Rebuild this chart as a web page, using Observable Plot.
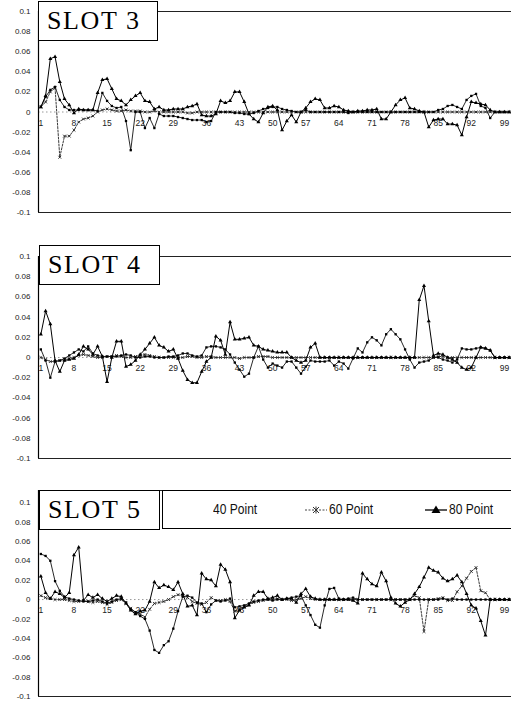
<!DOCTYPE html>
<html><head><meta charset="utf-8">
<script src="https://cdn.jsdelivr.net/npm/d3@7"></script>
<script src="https://cdn.jsdelivr.net/npm/@observablehq/plot@0.6"></script>
<style>
body{margin:0;background:#fff;}
#root{position:relative;width:511px;height:702px;overflow:hidden;font-family:"Liberation Sans",Arial,sans-serif;}
.panel{position:absolute;left:0;}
.title{position:absolute;border:1px solid #000;background:#fff;font-family:"Liberation Serif","Times New Roman",serif;font-size:26px;letter-spacing:1.6px;box-sizing:border-box;color:#000;padding-left:8px;display:flex;align-items:center;}
.legend{position:absolute;left:162px;top:490px;width:360px;height:39px;border:1px solid #000;background:#fff;box-sizing:border-box;font-family:"Liberation Sans",Arial,sans-serif;font-size:14px;color:#111;}
.legend span{position:absolute;top:10px;white-space:nowrap;display:inline-block;transform:scaleX(0.86);transform-origin:0 50%;}
.legend svg{position:absolute;top:10px;}
</style></head>
<body><div id="root"></div>
<script>
// categories and tick labels
const categories = Array.from({length: 100}, (_, k) => k + 1);
const xTickLabels = [1, 8, 15, 22, 29, 36, 43, 50, 57, 64, 71, 78, 85, 92, 99];
const yTicks = [-0.1, -0.08, -0.06, -0.04, -0.02, 0, 0.02, 0.04, 0.06, 0.08, 0.1];
const seriesNames = ["40 Point", "60 Point", "80 Point"];
const slotTitles = ["SLOT 3", "SLOT 4", "SLOT 5"];

// SLOT 3
const slot3_40 = [
0.005,0.015,0.022,0.025,0.012,0.005,0.002,0.002,0.002,0.002,
0.002,0.002,0.001,0.019,0.011,0.006,0.004,0.005,-0.009,-0.038,
0.000,0.000,-0.016,-0.006,-0.016,-0.002,-0.004,-0.004,-0.004,-0.005,
-0.006,-0.007,-0.008,-0.008,-0.008,-0.010,-0.009,0.000,0.000,0.000,
0.000,-0.001,-0.001,-0.002,-0.002,-0.001,0.001,0.003,0.004,0.005,
0.005,0.003,0.002,0.001,0.000,0.000,0.002,0.000,0.000,0.000,
0.000,0.000,0.000,0.000,0.000,-0.001,0.000,0.000,0.000,0.000,
0.000,0.000,0.000,0.000,0.000,0.000,0.000,0.000,0.000,0.000,
0.000,0.000,0.000,0.000,0.002,0.003,0.006,0.007,0.005,0.003,
0.012,0.016,0.018,0.006,0.004,-0.006,0.000,0.000,0.000,0.000];
const slot3_60 = [
0.005,0.010,0.020,0.024,-0.045,-0.024,-0.024,-0.018,-0.010,-0.007,
-0.006,-0.004,0.000,0.002,0.003,0.002,0.001,0.001,0.002,0.001,
0.001,0.001,0.000,0.000,0.001,0.000,0.000,0.000,0.000,0.000,
0.000,-0.001,-0.001,0.000,0.000,0.000,0.000,0.000,0.000,0.000,
0.000,0.000,0.000,0.000,0.000,0.000,0.000,0.000,0.000,0.000,
0.000,0.000,0.000,0.000,0.000,0.000,0.000,0.000,0.000,0.000,
0.000,0.000,0.000,0.000,0.000,0.000,0.000,0.000,0.000,0.000,
0.000,0.000,0.000,0.000,0.000,0.000,0.000,0.000,0.000,0.000,
0.000,0.000,0.000,0.000,0.000,0.000,0.000,0.000,0.000,0.000,
0.000,0.000,0.000,0.000,0.000,0.000,0.000,0.000,0.000,0.000];
const slot3_80 = [
0.005,0.016,0.053,0.055,0.030,0.013,0.007,-0.001,0.003,0.002,
0.002,0.002,0.019,0.032,0.033,0.023,0.013,0.011,0.007,0.012,
0.016,0.019,0.011,0.010,0.003,0.005,0.002,0.002,0.003,0.003,
0.003,0.005,0.006,0.008,-0.003,-0.004,-0.004,-0.002,0.011,0.009,
0.011,0.020,0.020,0.010,-0.002,-0.007,-0.010,-0.001,0.005,0.006,
0.002,-0.018,-0.009,-0.003,-0.010,0.000,0.004,0.010,0.013,0.012,
0.004,0.004,0.006,0.005,0.002,0.001,0.000,0.001,0.001,0.002,
0.002,0.003,-0.007,-0.007,0.000,0.007,0.012,0.014,0.004,0.003,
0.001,0.000,-0.015,-0.008,-0.007,-0.007,-0.012,-0.012,-0.013,-0.023,
-0.005,0.010,0.009,0.008,0.007,0.002,0.000,0.000,0.000,0.000];

// SLOT 4
const slot4_40 = [
0.008,-0.003,-0.020,-0.004,-0.003,-0.001,0.002,0.005,0.008,0.006,
0.011,0.004,0.002,0.001,0.001,0.001,0.001,0.002,0.003,0.002,
0.000,0.000,0.001,0.001,0.000,0.000,0.000,0.001,0.001,0.002,
0.004,0.004,0.002,0.001,0.002,0.010,0.011,0.011,0.010,0.008,
0.003,-0.005,-0.012,-0.019,-0.016,0.000,0.011,-0.002,-0.010,-0.006,
-0.008,-0.010,-0.004,-0.004,-0.010,-0.016,-0.009,-0.003,-0.004,-0.004,
-0.004,-0.003,-0.008,-0.004,-0.006,-0.011,-0.001,0.009,0.005,0.015,
0.020,0.017,0.012,0.023,0.028,0.023,0.018,0.008,-0.002,-0.010,
-0.005,-0.004,-0.003,0.000,0.000,-0.002,-0.003,-0.005,-0.002,0.009,
0.008,0.008,0.009,0.010,0.009,0.007,0.000,0.000,0.000,0.000];
const slot4_60 = [
0.000,-0.002,-0.004,-0.004,-0.003,-0.002,-0.001,0.000,0.002,0.003,
0.002,0.001,0.000,0.000,0.001,0.001,0.002,0.001,0.000,0.000,
0.001,0.002,0.003,0.002,0.001,0.000,0.000,0.000,0.000,0.000,
0.000,0.001,0.001,0.000,0.000,0.001,0.001,0.000,0.000,0.000,
0.000,0.000,-0.001,0.000,0.000,0.000,0.001,0.001,0.001,0.000,
0.000,0.000,0.000,0.000,0.000,0.000,0.000,0.000,0.000,0.000,
0.000,0.000,0.000,0.000,0.000,0.000,0.000,0.000,0.000,0.000,
0.000,0.000,0.000,0.000,0.000,0.000,0.000,0.000,0.000,0.000,
0.000,0.000,0.000,0.000,0.001,0.001,0.000,0.000,0.000,0.000,
0.000,0.000,0.000,0.000,0.000,0.000,0.000,0.000,0.000,0.000];
const slot4_80 = [
0.023,0.046,0.033,-0.003,-0.014,-0.003,-0.002,-0.001,0.003,0.011,
0.008,0.003,0.011,0.001,-0.024,0.000,0.016,0.016,-0.009,-0.007,
-0.003,0.003,0.008,0.014,0.020,0.012,0.010,0.006,0.008,-0.001,
-0.013,-0.022,-0.025,-0.025,-0.014,-0.004,0.000,0.021,0.017,0.003,
0.035,0.018,0.018,0.019,0.020,0.012,0.011,0.008,0.007,0.006,
0.005,0.005,0.005,0.000,-0.003,-0.005,-0.003,0.010,0.014,0.000,
0.000,0.000,0.000,0.000,0.000,0.000,0.000,0.000,0.000,0.000,
0.000,0.000,0.000,0.000,0.000,0.000,0.000,0.000,0.000,0.000,
0.057,0.071,0.036,0.002,0.004,0.003,0.000,-0.002,-0.005,-0.010,
-0.012,-0.010,0.000,0.010,0.009,0.007,0.000,0.000,0.000,0.000];

// SLOT 5
const slot5_40 = [
0.047,0.045,0.040,0.019,0.009,0.003,0.001,0.000,-0.001,-0.002,
-0.002,-0.001,0.000,-0.002,-0.004,-0.002,0.000,0.001,-0.003,-0.010,
-0.013,-0.017,-0.020,-0.032,-0.052,-0.055,-0.047,-0.043,-0.030,-0.012,
0.003,0.004,0.002,-0.003,-0.004,-0.013,-0.005,-0.001,-0.002,-0.001,
0.001,-0.008,-0.007,-0.006,-0.004,-0.002,-0.001,0.000,0.000,-0.001,
0.000,0.000,0.001,0.002,0.003,0.004,-0.006,-0.016,-0.026,-0.029,
-0.006,0.011,0.012,0.001,0.000,0.001,0.002,0.000,0.000,0.000,
0.000,0.000,0.000,0.000,0.000,0.000,0.000,0.000,0.000,0.000,
0.000,0.000,0.000,0.000,0.000,0.001,0.000,0.001,0.000,0.000,
0.000,0.000,0.000,0.000,0.000,0.000,0.000,0.000,0.000,0.000];
const slot5_60 = [
0.004,0.002,0.001,0.000,0.000,0.000,-0.001,-0.002,-0.002,-0.001,
-0.002,-0.003,-0.002,-0.003,-0.005,-0.003,-0.001,0.000,-0.004,-0.009,
-0.013,-0.015,-0.018,-0.010,-0.004,-0.003,-0.002,0.000,0.003,0.005,
0.004,0.002,-0.002,-0.004,-0.005,-0.003,0.002,-0.001,-0.001,0.000,
-0.002,-0.012,-0.010,-0.007,-0.005,-0.003,-0.002,-0.001,0.000,0.000,
0.001,0.000,0.000,-0.001,0.000,0.001,0.003,0.001,0.000,0.000,
0.000,0.000,0.000,0.000,0.000,0.000,0.000,0.000,0.000,0.000,
0.000,0.000,0.000,0.000,0.000,0.000,0.000,0.000,0.000,0.004,
0.002,-0.033,0.000,0.000,0.001,0.002,-0.001,-0.001,0.008,0.014,
0.022,0.029,0.033,0.009,0.007,0.000,0.000,0.000,0.000,0.000];
const slot5_80 = [
0.024,0.007,0.001,0.008,0.006,0.002,0.007,0.046,0.054,-0.001,
0.005,0.002,0.005,0.001,-0.002,0.001,0.004,0.003,-0.004,-0.011,
-0.015,-0.012,-0.011,-0.002,0.018,0.012,0.015,0.013,0.010,0.018,
0.006,-0.007,-0.006,-0.016,0.027,0.021,0.020,0.014,0.036,0.031,
0.018,-0.019,-0.011,-0.008,-0.006,0.004,0.008,0.008,0.001,0.002,
0.004,0.000,0.001,0.001,-0.003,0.006,0.011,0.003,0.001,0.000,
0.000,0.000,0.000,0.000,0.000,0.000,-0.001,-0.004,0.027,0.021,
0.016,0.014,0.028,0.019,0.002,-0.004,-0.007,-0.003,0.000,0.006,
0.013,0.023,0.033,0.030,0.028,0.022,0.019,0.021,0.025,0.018,
0.006,-0.006,-0.009,-0.022,-0.037,0.000,0.000,0.000,0.000,0.000];

const panels = [
  {title: slotTitles[0], series: [slot3_40, slot3_60, slot3_80], top: 0, h: 230, mt: 11, mb: 18, yd: [-0.1, 0.1],
   box: {left: 38, top: 1, w: 120, h: 40}},
  {title: slotTitles[1], series: [slot4_40, slot4_60, slot4_80], top: 230, h: 240, mt: 26, mb: 12, yd: [-0.1, 0.1],
   box: {left: 39, top: 15, w: 121, h: 40}},
  {title: slotTitles[2], series: [slot5_40, slot5_60, slot5_80], top: 470, h: 232, mt: 20, mb: 6, yd: [-0.1, 0.1125],
   box: {left: 39, top: 20, w: 121, h: 40}}
];

const root = document.getElementById("root");
const fmt = d => d === 0 ? "0" : d3.format("~g")(d).replace("−", "-");

panels.forEach(p => {
  const rows = [];
  p.series.forEach((vals, si) => vals.forEach((v, k) => rows.push({i: categories[k], v, s: seriesNames[si]})));
  const only = name => rows.filter(r => r.s === name);
  const chart = Plot.plot({
    width: 511, height: p.h,
    marginLeft: 38, marginRight: 0, marginTop: p.mt, marginBottom: p.mb,
    style: {fontFamily: "Liberation Sans, Arial, sans-serif", background: "transparent", overflow: "visible"},
    x: {domain: [0.5, 100.5], axis: null},
    y: {domain: p.yd},
    marks: [
      Plot.ruleY([0], {stroke: "#999", strokeDasharray: "1.5,2.5", strokeWidth: 1}),
      Plot.ruleY([p.yd[0], p.yd[1]], {stroke: "#222", strokeWidth: 1}),
      Plot.ruleX([0.5], {stroke: "#000", strokeWidth: 1.2}),
      Plot.axisY({ticks: yTicks, tickSize: 0, tickPadding: 8, tickFormat: fmt, fontSize: 8, fill: "#222", label: null}),
      Plot.text(xTickLabels, {x: d => d, y: 0, dy: 11, text: d => String(d), fontSize: 8.5, fill: "#222"}),
      Plot.line(only("60 Point"), {x: "i", y: "v", stroke: "#222", strokeWidth: 0.9, strokeDasharray: "2,1.5"}),
      Plot.line(only("40 Point"), {x: "i", y: "v", stroke: "#111", strokeWidth: 0.9}),
      Plot.line(only("80 Point"), {x: "i", y: "v", stroke: "#000", strokeWidth: 1}),
      Plot.dot(only("60 Point"), {x: "i", y: "v", symbol: "times", r: 1.4, stroke: "#222", strokeWidth: 0.9}),
      Plot.dot(only("40 Point"), {x: "i", y: "v", symbol: "square", r: 1.3, fill: "#000", stroke: "none"}),
      Plot.dot(only("80 Point"), {x: "i", y: "v", symbol: "triangle", r: 1.5, fill: "#000", stroke: "none"})
    ]
  });
  chart.classList.add("panel");
  chart.style.top = p.top + "px";
  root.appendChild(chart);
  const box = document.createElement("div");
  box.className = "title";
  box.style.left = p.box.left + "px";
  box.style.top = (p.top + p.box.top) + "px";
  box.style.width = p.box.w + "px";
  box.style.height = p.box.h + "px";
  box.textContent = p.title;
  root.appendChild(box);
});

// legend
const legend = document.createElement("div");
legend.className = "legend";
legend.innerHTML =
  `<span style="left:50px">${seriesNames[0]}</span>` +
  `<svg width="24" height="18" style="left:141px"><line x1="1" y1="9" x2="23" y2="9" stroke="#444" stroke-dasharray="2,1.5"/><path d="M9,6L15,12M15,6L9,12M12,5.5V12.5" stroke="#333" stroke-width="1"/></svg>` +
  `<span style="left:166px">${seriesNames[1]}</span>` +
  `<svg width="24" height="18" style="left:261px"><line x1="1" y1="9" x2="23" y2="9" stroke="#000" stroke-width="1.3"/><path d="M12,4.5L16.5,12H7.5Z" fill="#000"/></svg>` +
  `<span style="left:286px">${seriesNames[2]}</span>`;
root.appendChild(legend);
</script>
</body></html>
